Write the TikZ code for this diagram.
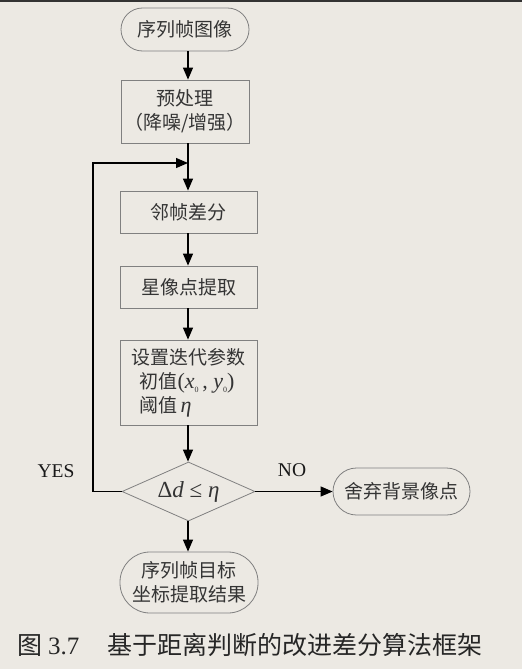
\documentclass[tikz,border=0pt]{standalone}
\usepackage{fontspec}
\setmainfont{Liberation Serif}
\newfontfamily\cjk{Noto Sans CJK SC}
\usetikzlibrary{shapes.geometric,arrows.meta}
\definecolor{paper}{RGB}{236,233,227}
\definecolor{edge}{RGB}{128,128,128}
\definecolor{ink}{RGB}{52,52,52}
% small roman subscript used in the coordinate pair
\newcommand{\subzero}{\raisebox{-4pt}{\fontsize{8}{8}\selectfont 0}}
\begin{document}
\begin{tikzpicture}[x=1pt,y=-1pt,
  box/.style={draw=edge,line width=0.8pt,text=ink,inner sep=0pt,
    font=\cjk\fontsize{19}{24}\selectfont,align=center},
  term/.style={box,rounded corners=#1},
  decision/.style={draw=edge,line width=0.8pt,text=ink,shape=diamond,
    inner sep=0pt,aspect=2.25,minimum width=133pt,minimum height=59pt,
    font=\fontsize{23}{26}\selectfont},
  lbl/.style={text=black!90,font=\fontsize{19.5}{22}\selectfont},
  arr/.style={-{Triangle[length=12pt,width=10pt]},line width=1.1pt,black}]

% page
\useasboundingbox (0,0) rectangle (522,669);
\fill[paper] (0,0) rectangle (522,669);
\fill[black!80] (0,0) rectangle (522,1.6);

% flow nodes
\node[term=21.5pt,minimum width=128pt,minimum height=43pt] (start) at (185,29.5) {序列帧图像};
\node[box,minimum width=128pt,minimum height=63pt] (pre) at (185,111.5) {预处理\\（降噪/增强）};
\node[box,minimum width=137pt,minimum height=42pt] (diff) at (188.5,212) {邻帧差分};
\node[box,minimum width=137pt,minimum height=42pt] (star) at (188.5,287) {星像点提取};
\node[box,minimum width=137pt,minimum height=85pt,align=left] (param) at (188.5,382.5)
  {设置迭代参数\\
   \hspace{8pt}初值{\rmfamily\fontsize{22}{24}\selectfont(\textit{x}\subzero\,, \textit{y}\subzero)}\\
   \hspace{8pt}阈值\,{\rmfamily\fontsize{22}{24}\selectfont\textit{η}}};
\node[decision] (dec) at (188.5,491.5) {Δ\textit{d} ≤ \textit{η}};
\node[term=23.5pt,minimum width=137pt,minimum height=47pt] (discard) at (401.5,491.5) {舍弃背景像点};
\node[term=30pt,minimum width=138pt,minimum height=61pt] (result) at (189,582.5) {序列帧目标\\坐标提取结果};

% branch labels
\node[lbl] (yes) at (56,471) {YES};
\node[lbl] (no) at (292,470) {NO};

% connectors
\coordinate (merge) at (188,163);
\coordinate (loopx) at (93,163);
\draw[arr] (start.south -| merge) -- (pre.north -| merge);
\draw[arr] (pre.south -| merge) -- (diff.north -| merge);
\draw[arr] (diff.south -| merge) -- (star.north -| merge);
\draw[arr] (star.south -| merge) -- (param.north -| merge);
\draw[arr] (param.south -| merge) -- (dec.north -| merge);
\draw[arr] (dec.south -| merge) -- (result.north -| merge);
\draw[arr] (dec.east) -- (discard.west);
\draw[arr] (dec.west) -| (loopx) -- (merge);

% caption
\node[anchor=west,inner sep=0pt,text=black!85,font=\fontsize{25}{28}\selectfont] (cap) at (17,645)
  {{\cjk 图}\hspace{6pt}3.7\hspace{28pt}{\cjk 基于距离判断的改进差分算法框架}};
\end{tikzpicture}
\end{document}
